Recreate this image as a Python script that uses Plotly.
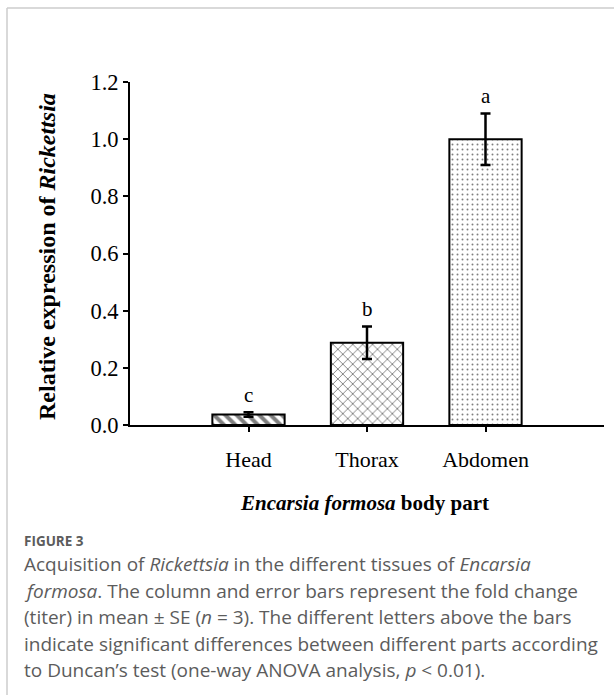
import plotly.graph_objects as go

categories = ["Head", "Thorax", "Abdomen"]
means = [0.037, 0.288, 1.0]
se = [0.008, 0.057, 0.09]
letters = ["c", "b", "a"]
patterns = ["\\", "x", "."]
y_ticks = [0.0, 0.2, 0.4, 0.6, 0.8, 1.0, 1.2]

W, H = 614, 695
L, R, T, B = 130, 10, 82, 270
pw = W - L - R
ph = H - T - B

def px(x):
    return (x - L) / pw

def py(y):
    return (H - B - y) / ph

serif = "Liberation Serif"
fig = go.Figure()
fig.add_trace(go.Bar(
    x=categories, y=means, width=0.61,
    marker=dict(color="white", line=dict(color="black", width=2),
                pattern=dict(shape=patterns, fgcolor="black", bgcolor="white",
                             size=[8, 7, 5], solidity=[0.5, 0.25, 0.12])),
    error_y=dict(type="data", array=se, color="black", thickness=2.5, width=5),
    showlegend=False,
))

for c, m, s, lt in zip(categories, means, se, letters):
    fig.add_annotation(x=c, y=m + s, text=lt, showarrow=False, yanchor="bottom",
                       yshift=3, font=dict(family=serif, size=21, color="black"))

fig.add_annotation(xref="paper", yref="paper", x=px(47), y=py(257), textangle=-90,
                   xanchor="center", yanchor="middle",
                   text="<b>Relative expression of <i>Rickettsia</i></b>", showarrow=False,
                   font=dict(family=serif, size=24, color="black"))
fig.add_annotation(xref="paper", yref="paper", x=px(364), y=py(503),
                   xanchor="center", yanchor="middle",
                   text="<b><i>Encarsia formosa</i> body part</b>", showarrow=False,
                   font=dict(family=serif, size=21, color="black"))

cap_col = "#5c5c5c"
fig.add_annotation(xref="paper", yref="paper", x=px(22), y=py(541),
                   xanchor="left", yanchor="middle",
                   text="<b>FIGURE 3</b>", showarrow=False,
                   font=dict(family="Open Sans", size=13.5, color=cap_col))
caption_lines = [
    "Acquisition of <i>Rickettsia</i> in the different tissues of <i>Encarsia</i>",
    "<i>formosa</i>. The column and error bars represent the fold change",
    "(titer) in mean ± SE (<i>n</i> = 3). The different letters above the bars",
    "indicate significant differences between different parts according",
    "to Duncan’s test (one-way ANOVA analysis, <i>p</i> &lt; 0.01).",
]
for i, line in enumerate(caption_lines):
    fig.add_annotation(xref="paper", yref="paper", x=px(22), y=py(564 + 26.5 * i),
                       xanchor="left", yanchor="middle", text=line, showarrow=False,
                       font=dict(family="Open Sans", size=19, color=cap_col))

# frame lines
fig.add_shape(type="line", xref="paper", yref="paper", x0=px(7), x1=px(614),
              y0=py(8), y1=py(8), line=dict(color="#cccccc", width=1.5))
fig.add_shape(type="line", xref="paper", yref="paper", x0=px(7), x1=px(7),
              y0=py(8), y1=py(695), line=dict(color="#cccccc", width=1.5))

fig.update_layout(
    width=W, height=H, margin=dict(l=L, r=R, t=T, b=B, pad=0),
    paper_bgcolor="white", plot_bgcolor="white",
    xaxis=dict(range=[-1, 3], showline=True, linecolor="black", linewidth=2,
               ticks="outside", ticklen=5, tickwidth=2, tickcolor="black",
               showgrid=False, zeroline=False, ticklabelstandoff=9,
               tickfont=dict(family=serif, size=22, color="black")),
    yaxis=dict(range=[0, 1.2], showline=True, linecolor="black", linewidth=2,
               ticks="outside", ticklen=5, tickwidth=2, tickcolor="black",
               tickvals=y_ticks, tickformat=".1f", showgrid=False, zeroline=False,
               tickfont=dict(family=serif, size=22.5, color="black")),
)
fig.write_html("out.html", config={"displayModeBar": False},
               post_script="document.body.style.margin='0px';")
